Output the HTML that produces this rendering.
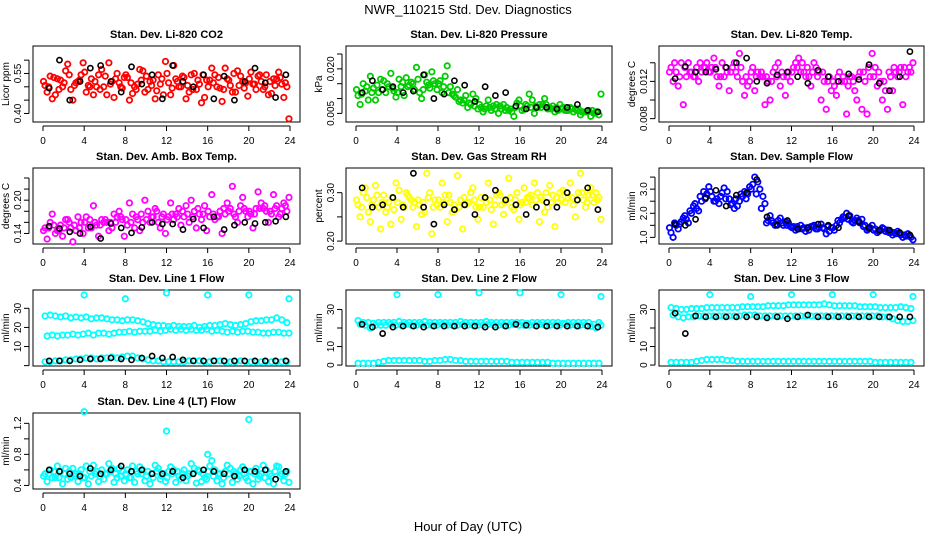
<!DOCTYPE html>
<html><head><meta charset="utf-8"><style>
html,body{margin:0;padding:0;background:#fff;}
svg{display:block;font-family:"Liberation Sans",sans-serif;}
</style></head><body>
<svg id="chart" width="936" height="540" viewBox="0 0 936 540" xmlns="http://www.w3.org/2000/svg">
<text x="468" y="14" text-anchor="middle" font-size="13">NWR_110215  Std. Dev. Diagnostics</text>
<text x="468" y="531" text-anchor="middle" font-size="13">Hour of Day (UTC)</text>
</svg>
<script>
const hoursA=[0.2,0.7,1.2,1.7,2.2,2.7,3.2,3.7,4.2,4.7,5.2,5.7,6.2,6.7,7.2,7.7,8.2,8.7,9.2,9.7,10.2,10.7,11.2,11.7,12.2,12.7,13.2,13.7,14.2,14.7,15.2,15.7,16.2,16.7,17.2,17.7,18.2,18.7,19.2,19.7,20.2,20.7,21.2,21.7,22.2,22.7,23.2,23.7];
const hoursB=[0.4,0.9,1.4,1.9,2.4,2.9,3.4,3.9,4.4,4.9,5.4,5.9,6.4,6.9,7.4,7.9,8.4,8.9,9.4,9.9,10.4,10.9,11.4,11.9,12.4,12.9,13.4,13.9,14.4,14.9,15.4,15.9,16.4,16.9,17.4,17.9,18.4,18.9,19.4,19.9,20.4,20.9,21.4,21.9,22.4,22.9,23.4,23.9];
const hoursC=[0.05,0.55,1.05,1.55,2.05,2.55,3.05,3.55,4.05,4.55,5.05,5.55,6.05,6.55,7.05,7.55,8.05,8.55,9.05,9.55,10.05,10.55,11.05,11.55,12.05,12.55,13.05,13.55,14.05,14.55,15.05,15.55,16.05,16.55,17.05,17.55,18.05,18.55,19.05,19.55,20.05,20.55,21.05,21.55,22.05,22.55,23.05,23.55];
const blackHours=[0.6,1.6,2.6,3.6,4.6,5.6,6.6,7.6,8.6,9.6,10.6,11.6,12.6,13.6,14.6,15.6,16.6,17.6,18.6,19.6,20.6,21.6,22.6,23.6];
const spikeHours=[4,8,12,16,20,23.9];
const xTicks=[0,4,8,12,16,20,24];

const co2A=[0.505,0.540,0.470,0.525,0.560,0.490,0.515,0.545,0.480,0.530,0.500,0.565,0.470,0.520,0.550,0.495,0.535,0.475,0.510,0.560,0.490,0.525,0.545,0.470,0.515,0.580,0.500,0.535,0.480,0.550,0.510,0.460,0.525,0.545,0.495,0.570,0.505,0.480,0.540,0.515,0.555,0.490,0.520,0.545,0.475,0.530,0.510,0.500];
const co2B=[0.480,0.455,0.530,0.500,0.585,0.450,0.520,0.590,0.505,0.470,0.545,0.500,0.590,0.460,0.515,0.535,0.450,0.500,0.565,0.480,0.520,0.455,0.510,0.595,0.470,0.530,0.500,0.455,0.545,0.490,0.440,0.525,0.570,0.500,0.445,0.530,0.480,0.560,0.520,0.465,0.510,0.540,0.490,0.470,0.530,0.555,0.460,0.380];
const co2C=[0.520,0.500,0.535,0.490,0.515,0.545,0.505,0.525,0.555,0.500,0.520,0.490,0.540,0.510,0.530,0.500,0.545,0.515,0.490,0.525,0.540,0.505,0.485,0.530,0.550,0.495,0.520,0.540,0.505,0.490,0.525,0.545,0.500,0.515,0.535,0.490,0.525,0.550,0.505,0.495,0.530,0.510,0.545,0.500,0.520,0.505,0.535,0.515];
const co2K=[0.495,0.600,0.450,0.520,0.570,0.580,0.520,0.480,0.575,0.510,0.545,0.455,0.580,0.520,0.500,0.545,0.455,0.540,0.450,0.520,0.570,0.515,0.460,0.545];

const presA=[0.0110,0.0150,0.0095,0.0135,0.0120,0.0160,0.0140,0.0125,0.0165,0.0110,0.0145,0.0130,0.0120,0.0180,0.0135,0.0150,0.0160,0.0175,0.0140,0.0105,0.0095,0.0110,0.0080,0.0100,0.0070,0.0075,0.0060,0.0080,0.0065,0.0070,0.0055,0.0085,0.0060,0.0075,0.0095,0.0070,0.0080,0.0065,0.0075,0.0060,0.0070,0.0060,0.0055,0.0065,0.0055,0.0060,0.0050,0.0045];
const presB=[0.0080,0.0125,0.0175,0.0095,0.0165,0.0120,0.0185,0.0105,0.0140,0.0170,0.0155,0.0205,0.0100,0.0155,0.0190,0.0130,0.0120,0.0210,0.0115,0.0130,0.0085,0.0070,0.0115,0.0065,0.0055,0.0095,0.0075,0.0050,0.0080,0.0060,0.0040,0.0095,0.0065,0.0115,0.0050,0.0080,0.0100,0.0070,0.0055,0.0080,0.0060,0.0070,0.0065,0.0045,0.0055,0.0040,0.0055,0.0115];
const presC=[0.0130,0.0115,0.0140,0.0120,0.0145,0.0130,0.0150,0.0135,0.0120,0.0155,0.0140,0.0150,0.0165,0.0130,0.0145,0.0160,0.0150,0.0140,0.0120,0.0110,0.0090,0.0095,0.0085,0.0075,0.0080,0.0065,0.0070,0.0065,0.0075,0.0060,0.0065,0.0070,0.0075,0.0080,0.0070,0.0075,0.0070,0.0080,0.0065,0.0070,0.0065,0.0060,0.0065,0.0060,0.0055,0.0055,0.0060,0.0055];
const presK=[0.0120,0.0160,0.0130,0.0140,0.0120,0.0125,0.0180,0.0100,0.0115,0.0160,0.0145,0.0090,0.0140,0.0110,0.0120,0.0075,0.0065,0.0070,0.0070,0.0065,0.0070,0.0080,0.0060,0.0055];

const tempA=[0.0135,0.0130,0.0140,0.0125,0.0130,0.0135,0.0130,0.0140,0.0135,0.0125,0.0140,0.0130,0.0135,0.0125,0.0120,0.0115,0.0135,0.0130,0.0125,0.0120,0.0130,0.0140,0.0125,0.0130,0.0135,0.0145,0.0130,0.0125,0.0140,0.0130,0.0120,0.0125,0.0115,0.0130,0.0120,0.0125,0.0110,0.0130,0.0120,0.0125,0.0135,0.0120,0.0110,0.0125,0.0130,0.0135,0.0125,0.0130];
const tempB=[0.0120,0.0115,0.0095,0.0140,0.0125,0.0120,0.0135,0.0130,0.0145,0.0115,0.0125,0.0110,0.0140,0.0150,0.0105,0.0120,0.0110,0.0125,0.0095,0.0100,0.0135,0.0115,0.0105,0.0120,0.0140,0.0130,0.0125,0.0115,0.0135,0.0100,0.0090,0.0110,0.0105,0.0120,0.0085,0.0125,0.0100,0.0090,0.0085,0.0150,0.0115,0.0100,0.0090,0.0110,0.0125,0.0095,0.0130,0.0140];
const tempC=[0.0130,0.0140,0.0125,0.0135,0.0130,0.0125,0.0140,0.0135,0.0130,0.0135,0.0125,0.0135,0.0130,0.0130,0.0135,0.0125,0.0130,0.0125,0.0130,0.0125,0.0120,0.0125,0.0130,0.0125,0.0130,0.0135,0.0140,0.0135,0.0130,0.0125,0.0130,0.0120,0.0120,0.0125,0.0125,0.0115,0.0120,0.0125,0.0130,0.0135,0.0125,0.0130,0.0120,0.0130,0.0135,0.0130,0.0135,0.0135];
const tempK=[0.0123,0.0136,0.0130,0.0130,0.0133,0.0135,0.0140,0.0145,0.0120,0.0118,0.0127,0.0130,0.0125,0.0118,0.0132,0.0125,0.0120,0.0128,0.0122,0.0138,0.0118,0.0110,0.0125,0.0152];

const ambA=[0.150,0.160,0.140,0.155,0.165,0.150,0.145,0.160,0.170,0.150,0.155,0.165,0.160,0.150,0.170,0.165,0.155,0.175,0.165,0.160,0.180,0.170,0.160,0.175,0.170,0.165,0.185,0.170,0.160,0.180,0.175,0.190,0.170,0.165,0.180,0.175,0.185,0.170,0.190,0.180,0.175,0.185,0.195,0.180,0.175,0.190,0.185,0.180];
const ambB=[0.130,0.175,0.145,0.135,0.165,0.125,0.170,0.140,0.150,0.190,0.135,0.160,0.145,0.175,0.180,0.135,0.195,0.150,0.145,0.200,0.160,0.185,0.150,0.140,0.195,0.175,0.155,0.190,0.200,0.150,0.165,0.145,0.210,0.170,0.140,0.195,0.225,0.160,0.205,0.170,0.150,0.215,0.185,0.160,0.210,0.170,0.195,0.205];
const ambC=[0.145,0.150,0.155,0.145,0.150,0.160,0.155,0.150,0.160,0.165,0.160,0.155,0.165,0.160,0.160,0.170,0.165,0.160,0.170,0.175,0.165,0.170,0.180,0.170,0.165,0.175,0.170,0.180,0.175,0.170,0.185,0.175,0.180,0.175,0.170,0.185,0.180,0.175,0.180,0.185,0.180,0.175,0.185,0.190,0.180,0.185,0.175,0.190];
const ambK=[0.153,0.149,0.143,0.140,0.152,0.131,0.158,0.150,0.141,0.151,0.160,0.157,0.157,0.147,0.166,0.150,0.170,0.147,0.155,0.160,0.158,0.160,0.162,0.170];

const rhA=[0.275,0.300,0.260,0.285,0.270,0.295,0.280,0.265,0.305,0.270,0.290,0.280,0.275,0.260,0.300,0.285,0.270,0.295,0.280,0.265,0.285,0.275,0.300,0.270,0.290,0.280,0.265,0.295,0.275,0.285,0.270,0.300,0.280,0.290,0.275,0.300,0.285,0.270,0.295,0.280,0.305,0.290,0.275,0.300,0.285,0.295,0.280,0.290];
const rhB=[0.250,0.310,0.240,0.315,0.225,0.260,0.235,0.320,0.245,0.300,0.285,0.230,0.255,0.340,0.215,0.275,0.320,0.240,0.260,0.335,0.225,0.280,0.310,0.245,0.270,0.320,0.235,0.300,0.255,0.330,0.265,0.245,0.310,0.290,0.320,0.240,0.260,0.315,0.230,0.300,0.280,0.320,0.250,0.340,0.270,0.310,0.300,0.245];
const rhC=[0.285,0.270,0.290,0.275,0.295,0.280,0.270,0.290,0.280,0.275,0.295,0.270,0.285,0.280,0.290,0.270,0.285,0.280,0.295,0.275,0.270,0.290,0.280,0.285,0.270,0.290,0.285,0.275,0.295,0.280,0.290,0.285,0.275,0.280,0.295,0.285,0.290,0.300,0.280,0.290,0.285,0.300,0.290,0.285,0.300,0.280,0.295,0.285];
const rhK=[0.310,0.270,0.275,0.290,0.270,0.340,0.270,0.235,0.275,0.265,0.275,0.255,0.290,0.305,0.285,0.275,0.255,0.270,0.280,0.270,0.300,0.285,0.310,0.265];

const sfA=[1.20,1.50,1.65,1.75,2.00,2.20,2.50,2.80,2.70,2.60,2.85,2.90,2.40,2.30,2.70,2.80,3.20,3.30,2.70,1.70,1.60,1.70,1.50,1.60,1.45,1.35,1.40,1.30,1.50,1.40,1.35,1.25,1.30,1.60,1.80,1.90,1.70,1.60,1.50,1.40,1.35,1.30,1.25,1.20,1.15,1.10,1.05,1.00];
const sfB=[1.00,1.35,1.80,1.60,2.30,2.10,2.90,3.10,2.50,2.40,3.05,2.60,2.20,2.50,2.90,3.10,3.50,3.00,2.40,1.90,1.50,1.80,1.65,1.45,1.30,1.50,1.25,1.45,1.35,1.55,1.15,1.40,1.50,1.75,2.00,1.65,1.80,1.75,1.30,1.50,1.20,1.40,1.30,1.10,1.25,1.00,1.15,0.90];
const sfC=[1.40,1.60,1.55,1.90,2.10,2.40,2.70,2.60,2.90,2.50,2.70,2.60,2.35,2.60,2.80,2.60,3.00,2.80,2.20,1.60,1.70,1.55,1.60,1.50,1.40,1.45,1.35,1.40,1.45,1.35,1.40,1.45,1.40,1.70,1.85,1.75,1.60,1.70,1.45,1.35,1.30,1.25,1.35,1.20,1.20,1.15,1.10,1.05];
const sfK=[1.55,1.50,1.75,2.65,2.95,2.30,2.75,2.85,3.40,1.85,1.50,1.70,1.35,1.40,1.55,1.50,1.40,1.90,1.65,1.40,1.30,1.30,1.20,1.10];

const l1A=[26,26.5,26,25.5,26,25,25.5,25,25.5,24.5,25,25,24.5,24,24,23.5,24,24,23.5,23,22,21.5,21,21,20.5,21,20.5,20.5,20.5,21,20,20.5,21,21,21.5,22,21.5,21,21.5,22,23,23.5,23.5,24,24,25,24,22.5];
const l1B=[15.5,16,15.5,16,16,16.5,16,16.5,17,16,17,17,16.5,17,17.5,17.5,18,17.5,18,18,18,18.5,18,18.5,19,18.5,19,18.5,19,18.5,18.5,19,18,18.5,18,17.5,18,17.5,18,18,17.5,17.5,17,17,17.5,17.5,17,17];
const l1C=[2,2,2.5,2.5,3,3,3.5,3.5,4,4,3.5,4,4,4.5,4,4.5,5,5,4,3.5,3,2.5,2.5,2,2,2,2,2,2.5,2.5,2.5,2,2,2.5,2.5,2,2,2,2.5,2,2,2,2,2,2,2,2,2];
const l1S=[37,35,38,37,37,35];
const l1K=[2.5,2.5,2.5,3,3.5,3.5,4,3.5,3,4,5,4,4.5,3,2.5,2.5,2.5,2.5,2.5,2.5,2.5,2.5,2.5,2.5];

const l2A=[24,23,23,22.5,23,23,23,23,23.5,23,23,23,23,23.5,23,23,23,23,23,23,23.5,23,23,23,23,23.5,23,23,23,23,23,23,23,22.5,23,23,23,23,23,23,22.5,23,23,23,23,23,22,23];
const l2B=[22,21.5,20,21.5,21.5,21.5,22,21.5,21.5,22,21.5,21.5,22,21.5,21.5,21.5,22,21.5,21.5,21.5,22,21.5,21.5,21.5,21.5,22,21.5,21.5,21.5,21.5,22,21.5,21.5,21.5,21.5,22,21.5,21.5,21.5,21.5,22,21.5,21.5,21.5,21.5,21,20,21.5];
const l2C=[1,1,1,1,1.5,2,2.5,2.5,2.5,2.5,2.5,2.5,2.5,2,2,2.5,2.5,3,3,2.5,2.5,2,2,2,2,2,2,2,2,2,1.5,1.5,1.5,1.5,1.5,1.5,1.5,1.5,1,1,1,1,1,1,1,1,1,1];
const l2S=[38,38,39,39,38,37];
const l2K=[22,20.5,17,20.5,21,21,20.5,21,21,21,21,21,20.5,20.5,21,22,21.5,21,21,21,21,21,21,20.5];

const l3A=[31,30.5,30,30,30.5,30.5,30.5,31,31,31,31,31,31,31,31.5,31.5,31.5,31.5,31.5,32,32,32,32,32.5,32.5,32.5,32.5,32.5,32.5,32.5,33,32.5,32,32,32,32,32,31.5,31.5,31.5,31.5,31,31,31,31,31.5,31,30.5];
const l3B=[27,26,25.5,26,26,26.5,26.5,26.5,26.5,26.5,26.5,26.5,26.5,26.5,27,27,27,26.5,26.5,26.5,26.5,26.5,26.5,26.5,26.5,26.5,26.5,26.5,26.5,26.5,26.5,26.5,26.5,26.5,26.5,26.5,26.5,26.5,26.5,26.5,26.5,26,26,25,24,23.5,23.5,24];
const l3C=[1.5,1.5,1.5,1.5,1.5,2,2.5,3,3,3,3,2.5,2.5,2,2,2,2,2,2,2,2,2,2,2,2,2,2,2,2,2,2,2,2,2,2,2,2,2,2,2,1.5,1.5,1.5,1.5,1.5,1.5,1.5,1.5];
const l3S=[38,37,38,38,38,37];
const l3K=[28,17,26.5,26,26,26,26,26,26,25.5,26,25,26,27,26,26,26,26,26,26,26,26,26,26];

const l4A=[0.55,0.6,0.5,0.58,0.62,0.5,0.55,0.6,0.65,0.52,0.58,0.6,0.55,0.62,0.5,0.58,0.6,0.65,0.55,0.6,0.58,0.5,0.62,0.55,0.58,0.6,0.52,0.6,0.55,0.62,0.58,0.5,0.65,0.6,0.55,0.58,0.62,0.55,0.6,0.5,0.58,0.62,0.55,0.6,0.52,0.65,0.55,0.58];
const l4B=[0.45,0.5,0.65,0.42,0.48,0.62,0.45,0.5,0.42,0.66,0.45,0.48,0.68,0.44,0.62,0.46,0.5,0.44,0.64,0.46,0.42,0.66,0.48,0.45,0.64,0.44,0.48,0.46,0.68,0.43,0.45,0.48,0.72,0.46,0.42,0.66,0.44,0.48,0.64,0.46,0.42,0.48,0.66,0.45,0.42,0.64,0.46,0.44];
const l4C=[0.52,0.55,0.58,0.5,0.55,0.58,0.52,0.55,0.5,0.58,0.55,0.52,0.55,0.58,0.55,0.52,0.55,0.5,0.58,0.55,0.52,0.55,0.58,0.52,0.5,0.55,0.58,0.55,0.52,0.55,0.6,0.55,0.58,0.52,0.55,0.5,0.55,0.58,0.52,0.55,0.58,0.55,0.52,0.5,0.55,0.58,0.52,0.55];
const l4SHours=[4,12,16,20];
const l4S=[1.35,1.1,0.8,1.25];
const l4K=[0.6,0.58,0.55,0.52,0.62,0.55,0.6,0.65,0.58,0.6,0.55,0.55,0.58,0.5,0.55,0.6,0.58,0.55,0.52,0.6,0.58,0.6,0.48,0.58];

const NS='http://www.w3.org/2000/svg';
const svg=document.getElementById('chart');
const colL=[33,346,659], colR=[300,612,924];
const rowT=[46,168,290,413], boxH=76;
function mk(tag,attrs,parent){const e=document.createElementNS(NS,tag);for(const k in attrs)e.setAttribute(k,attrs[k]);(parent||svg).appendChild(e);return e;}

const panels=[
 {name:'co2',title:'Stan. Dev. Li-820 CO2',yl:'Licor ppm',c:0,r:0,ylim:[0.368,0.653],ticks:[0.40,0.45,0.50,0.55,0.60],labels:['0.40','0.55'],col:'#ff0000',series:[[hoursA,co2A],[hoursB,co2B],[hoursC,co2C]],black:co2K},
 {name:'pressure',title:'Stan. Dev. Li-820 Pressure',yl:'kPa',c:1,r:0,ylim:[0.0021,0.0277],ticks:[0.005,0.010,0.015,0.020,0.025],labels:['0.005','0.020'],col:'#00cd00',series:[[hoursA,presA],[hoursB,presB],[hoursC,presC]],black:presK},
 {name:'temp',title:'Stan. Dev. Li-820 Temp.',yl:'degrees C',c:2,r:0,ylim:[0.00764,0.0158],ticks:[0.008,0.010,0.012,0.014],labels:['0.008','0.012'],col:'#ff00ff',series:[[hoursA,tempA],[hoursB,tempB],[hoursC,tempC]],black:tempK},
 {name:'amb-box-temp',title:'Stan. Dev. Amb. Box Temp.',yl:'degrees C',c:0,r:1,ylim:[0.121,0.258],ticks:[0.14,0.16,0.18,0.20,0.22,0.24],labels:['0.14','0.20'],col:'#ff00ff',series:[[hoursA,ambA],[hoursB,ambB],[hoursC,ambC]],black:ambK},
 {name:'gas-rh',title:'Stan. Dev. Gas Stream RH',yl:'percent',c:1,r:1,ylim:[0.194,0.351],ticks:[0.20,0.25,0.30],labels:['0.20','0.30'],col:'#ffff00',series:[[hoursA,rhA],[hoursB,rhB],[hoursC,rhC]],black:rhK},
 {name:'sample-flow',title:'Stan. Dev. Sample Flow',yl:'ml/min',c:2,r:1,ylim:[0.726,3.877],ticks:[1.0,1.5,2.0,2.5,3.0,3.5],labels:['1.0','2.0','3.0'],col:'#0000ff',series:[[hoursA,sfA],[hoursB,sfB],[hoursC,sfC]],black:sfK},
 {name:'line1-flow',title:'Stan. Dev. Line 1 Flow',yl:'ml/min',c:0,r:2,ylim:[-0.2,39.6],ticks:[0,10,20,30],labels:['10','20','30'],col:'#00ffff',series:[[hoursA,l1A],[hoursB,l1B],[hoursA,l1C],[spikeHours,l1S]],black:l1K},
 {name:'line2-flow',title:'Stan. Dev. Line 2 Flow',yl:'ml/min',c:1,r:2,ylim:[-0.5,40.5],ticks:[0,10,20,30],labels:['0','10','30'],col:'#00ffff',series:[[hoursA,l2A],[hoursB,l2B],[hoursA,l2C],[spikeHours,l2S]],black:l2K},
 {name:'line3-flow',title:'Stan. Dev. Line 3 Flow',yl:'ml/min',c:2,r:2,ylim:[-0.5,40.5],ticks:[0,10,20,30],labels:['0','10','30'],col:'#00ffff',series:[[hoursA,l3A],[hoursB,l3B],[hoursA,l3C],[spikeHours,l3S]],black:l3K},
 {name:'line4-flow',title:'Stan. Dev. Line 4 (LT) Flow',yl:'ml/min',c:0,r:3,ylim:[0.354,1.333],ticks:[0.4,0.6,0.8,1.0,1.2],labels:['0.4','0.8','1.2'],col:'#00ffff',series:[[hoursA,l4A],[hoursB,l4B],[hoursC,l4C],[l4SHours,l4S]],black:l4K}
];

panels.forEach(p=>{
 const L=colL[p.c],R=colR[p.c],T=rowT[p.r],B=T+boxH;
 const x0=L+10,x1=R-10;
 const xs=v=>x0+(x1-x0)*v/24;
 const ys=v=>B-(v-p.ylim[0])/(p.ylim[1]-p.ylim[0])*(B-T);
 const g=mk('g',{});
 
 
 const t=mk('text',{x:(L+R)/2,y:T-8,'text-anchor':'middle','font-size':'11','font-weight':'bold'},g);
 
 
 t.textContent=p.title;
 const box=mk('rect',{x:L,y:T,width:R-L,height:boxH,fill:'none',stroke:'#000','stroke-width':1},g);
 
 
 const xa=mk('g',{},g);
 
 
 mk('line',{x1:xs(0),x2:xs(24),y1:B+4,y2:B+4,stroke:'#000'},xa);
 xTicks.forEach(v=>{
  mk('line',{x1:xs(v),x2:xs(v),y1:B+4,y2:B+9,stroke:'#000'},xa);
  const tl=mk('text',{x:xs(v),y:B+22,'text-anchor':'middle','font-size':'10'},xa);
  
  
  tl.textContent=String(v);
 });
 const ya=mk('g',{},g);
 
 
 mk('line',{x1:L-4,x2:L-4,y1:ys(p.ticks[0]),y2:ys(p.ticks[p.ticks.length-1]),stroke:'#000'},ya);
 p.ticks.forEach(v=>{
  mk('line',{x1:L-9,x2:L-4,y1:ys(v),y2:ys(v),stroke:'#000'},ya);
 });
 p.labels.forEach(s=>{
  const v=parseFloat(s);
  const tl=mk('text',{x:0,y:0,'text-anchor':'middle','font-size':'10',transform:`translate(${L-12},${ys(v)}) rotate(-90)`},ya);
  
  
  tl.textContent=s;
 });
 const yt=mk('text',{x:0,y:0,'text-anchor':'middle','font-size':'10',transform:`translate(${L-24},${(T+B)/2}) rotate(-90)`},g);
 
 
 yt.textContent=p.yl;
 const sg=mk('g',{fill:'none',stroke:p.col,'stroke-width':1.8},g);
 
 
 p.series.forEach(s=>{
  s[1].forEach((v,i)=>{
   const c=mk('circle',{cx:xs(s[0][i]),cy:ys(v),r:2.7},sg);
   
   
  });
 });
 const kg=mk('g',{fill:'none',stroke:'#000','stroke-width':1.6},g);
 
 
 p.black.forEach((v,i)=>{
  const c=mk('circle',{cx:xs(blackHours[i]),cy:ys(v),r:2.6},kg);
  
  
 });
});
</script>
</body></html>
